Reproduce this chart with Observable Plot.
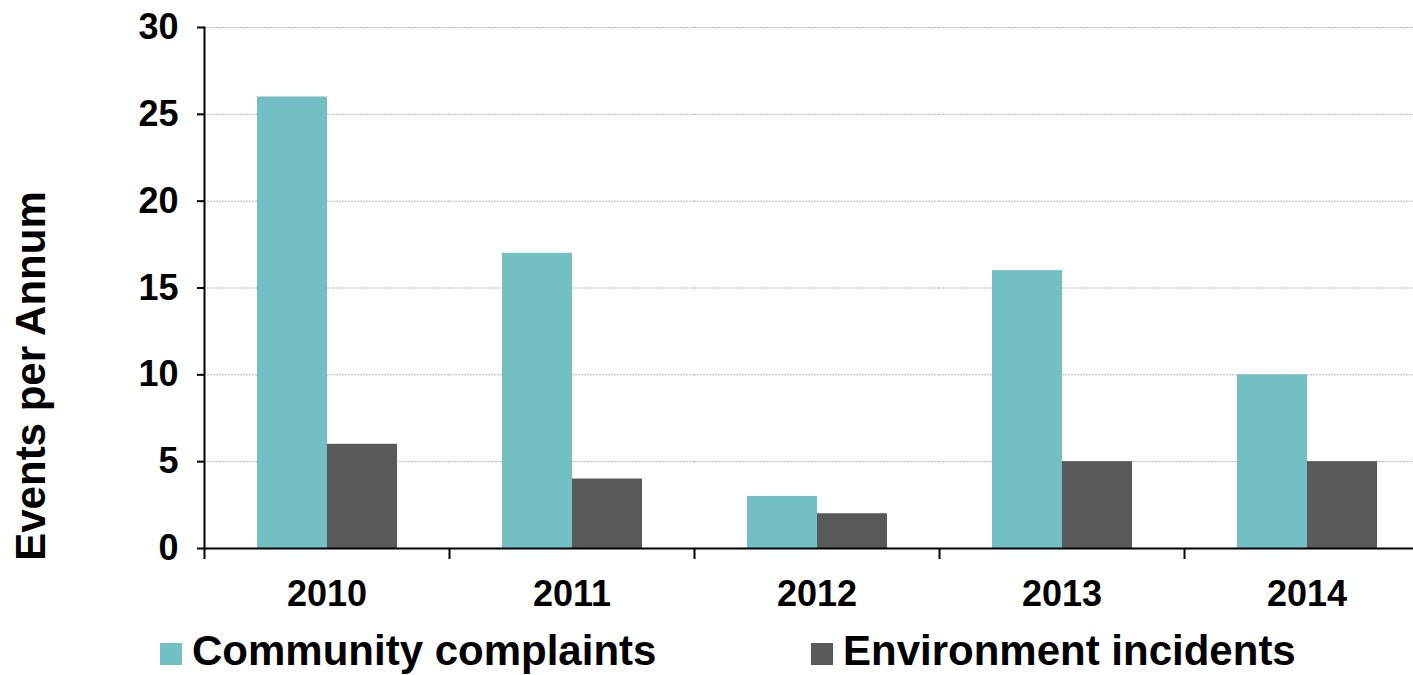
<!DOCTYPE html>
<html>
<head>
<meta charset="utf-8">
<script src="https://cdn.jsdelivr.net/npm/d3@7"></script>
<script src="https://cdn.jsdelivr.net/npm/@observablehq/plot@0.6"></script>
<style>
  html, body { margin: 0; padding: 0; background: #fff; }
  body { width: 1413px; height: 675px; overflow: hidden; font-family: "Liberation Sans", Arial, sans-serif; }
  #legend { position: relative; height: 60px; font-weight: bold; font-size: 42px; color: #000; }
  .item { position: absolute; top: 6px; display: flex; align-items: center; height: 60px; }
  .sw { width: 22px; height: 22px; margin-right: 10px; margin-top: 6px; }
</style>
</head>
<body>
<div id="chart"></div>
<div id="legend"></div>
<script>
const years = ["2010", "2011", "2012", "2013", "2014"];
const seriesNames = ["Community complaints", "Environment incidents"];
const communityComplaints = [26, 17, 3, 16, 10];
const environmentIncidents = [6, 4, 2, 5, 5];
const yTicks = [0, 5, 10, 15, 20, 25, 30];
const colors = ["#72BFC4", "#595959"];
const yLabel = "Events per Annum";

const data = years.flatMap((yr, i) => [
  {year: yr, series: seriesNames[0], value: communityComplaints[i]},
  {year: yr, series: seriesNames[1], value: environmentIncidents[i]}
]);

const left = 204, right = 1429;
const bandW = (right - left) / years.length;

const chart = Plot.plot({
  width: 1413,
  height: 615,
  marginTop: 27,
  marginBottom: 67,
  marginLeft: left,
  marginRight: 0,
  style: {fontFamily: "'Liberation Sans', Arial, sans-serif", color: "#000", background: "transparent", overflow: "visible"},
  fx: {domain: years, range: [left, right], paddingInner: 0, paddingOuter: 0, label: null, axis: null},
  x: {domain: seriesNames, paddingInner: 0, paddingOuter: 0.75, axis: null},
  y: {domain: [0, 30], axis: null},
  color: {domain: seriesNames, range: colors},
  marks: [
    Plot.ruleY(yTicks.filter(d => d > 0), {stroke: "#b5b5b5", strokeWidth: 1, strokeDasharray: "2,1"}),
    Plot.barY(data, {fx: "year", x: "series", y: "value", fill: "series"}),
    Plot.ruleY([0], {stroke: "#000", strokeWidth: 2}),
    Plot.frame({anchor: "left", facetAnchor: "left", stroke: "#000", strokeWidth: 2}),
    Plot.axisY({ticks: yTicks, tickSize: 7, tickPadding: 19, fontSize: 36, fontWeight: "bold", label: null, stroke: "#000", strokeWidth: 2, tickFormat: d => d}),
    Plot.axisFx({anchor: "bottom", tickSize: 0, tickPadding: 32, fontSize: 36, fontWeight: "bold", label: null}),
    Plot.axisFx({anchor: "bottom", tickSize: 11, tickFormat: () => "", label: null, dx: -bandW / 2, stroke: "#000", strokeWidth: 2}),
    Plot.text([yLabel], {fx: () => years[0], frameAnchor: "left", textAnchor: "middle", rotate: -90, dx: -173, dy: 88, fontSize: 42, fontWeight: "bold", fill: "#000"})
  ]
});
document.getElementById("chart").appendChild(chart);

const legend = document.getElementById("legend");
const positions = [160, 811];
seriesNames.forEach((name, i) => {
  const item = document.createElement("div");
  item.className = "item";
  item.style.left = positions[i] + "px";
  const sw = document.createElement("div");
  sw.className = "sw";
  sw.style.background = colors[i];
  const t = document.createElement("span");
  t.textContent = name;
  item.appendChild(sw);
  item.appendChild(t);
  legend.appendChild(item);
});
</script>
</body>
</html>
